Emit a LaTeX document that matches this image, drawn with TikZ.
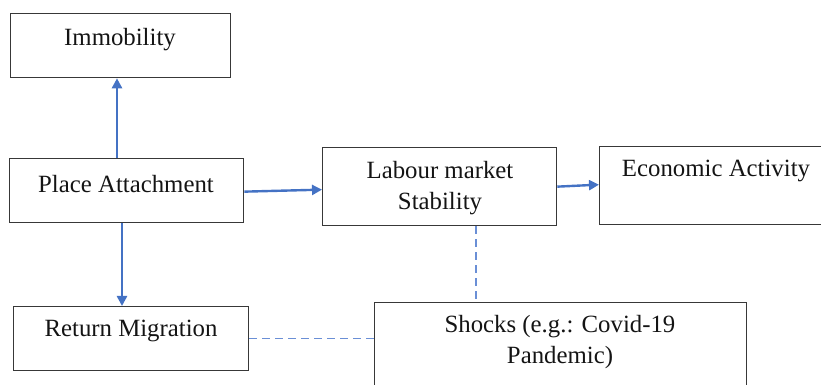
\documentclass[tikz,border=0pt]{standalone}
\usepackage{fontspec}
\setmainfont{Liberation Serif}
\usetikzlibrary{arrows.meta}
\definecolor{arrblue}{HTML}{4472C4}
\definecolor{dashblue}{HTML}{6A8FD6}
\begin{document}
\begin{tikzpicture}[x=0.5pt,y=-0.5pt,
  box/.style={draw=black!78,line width=0.65pt,rectangle,inner sep=0pt,anchor=north west},
  lbl/.style={inner sep=0pt,align=center,font=\fontsize{12.4}{15.5}\selectfont,text=black!92},
  arr/.style={draw=arrblue,line width=1.2pt,-{Triangle[length=5pt,width=5pt]}},
  link/.style={draw=dashblue,line width=0.6pt,dash pattern=on 4pt off 2.5pt}]
\clip (0,0) rectangle (821,385);
\useasboundingbox (0,0) rectangle (821,385);
% boxes
\node[box,minimum width=110pt,minimum height=32pt] (imm) at (10,13) {};
\node[box,minimum width=117pt,minimum height=32pt] (pa) at (9,158) {};
\node[box,minimum width=117pt,minimum height=39pt] (lab) at (322,147) {};
\node[box,minimum width=120pt,minimum height=39pt] (eco) at (599,146) {};
\node[box,minimum width=117.5pt,minimum height=32pt] (ret) at (13,306) {};
\node[box,minimum width=186pt,minimum height=50pt] (sh) at (374,302) {};
% labels
\node[lbl] (immt) at (120,40) {Immobility};
\node[lbl] (pat) at (126,184) {Place Attachment};
\node[lbl] (labt) at (440,188) {Labour market\\Stability};
\node[lbl] (ecot) at (716,171) {Economic Activity};
\node[lbl] (rett) at (131,331) {Return Migration};
\node[lbl] (sht) at (560,342) {Shocks (e.g.: Covid-19\\Pandemic)};
% connector guides
\coordinate (cu) at (117,0);
\coordinate (cd) at (122,0);
\coordinate (cs) at (476,0);
% arrows
\draw[arr] (pa.north -| cu) -- (imm.south -| cu);
\draw[arr] ([yshift=-0.5pt]pa.east) -- ([yshift=-1.5pt]lab.west);
\draw[arr] (lab.east) -- ([yshift=0.5pt]eco.west);
\draw[arr] (pa.south -| cd) -- (ret.north -| cd);
% dashed links
\draw[link] (lab.south -| cs) -- (sh.north -| cs);
\draw[link] (ret.east) -- (ret.east -| sh.west);
\end{tikzpicture}
\end{document}
